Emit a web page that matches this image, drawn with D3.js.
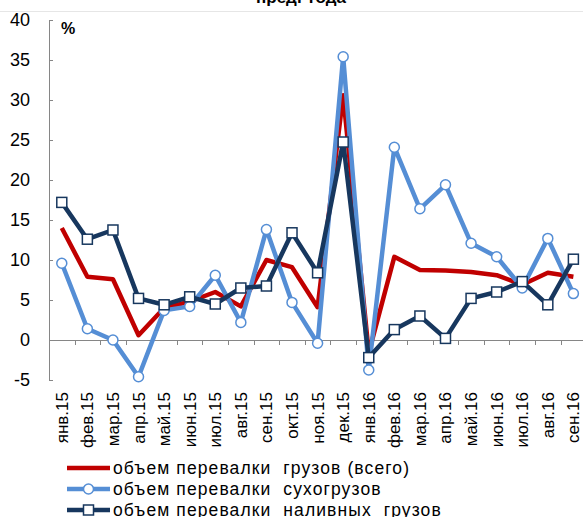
<!DOCTYPE html>
<html>
<head>
<meta charset="utf-8">
<script src="https://cdn.jsdelivr.net/npm/d3@7"></script>
<style>
  body { margin: 0; background: #fff; }
  svg { display: block; font-family: "Liberation Sans", Arial, sans-serif; }
</style>
</head>
<body>
<script>
// months, янв.15 .. сен.16
const months = ["янв.15", "фев.15", "мар.15", "апр.15", "май.15", "июн.15", "июл.15",
  "авг.15", "сен.15", "окт.15", "ноя.15", "дек.15", "янв.16", "фев.16", "мар.16",
  "апр.16", "май.16", "июн.16", "июл.16", "авг.16", "сен.16"];

const total = [14.0, 7.9, 7.6, 0.6, 4.0, 4.8, 6.0, 4.2, 10.0, 9.1, 4.1, 30.6, -1.6,
  10.4, 8.75, 8.7, 8.5, 8.1, 6.9, 8.4, 7.9];
const dry = [9.6, 1.4, 0.0, -4.6, 3.7, 4.2, 8.1, 2.2, 13.8, 4.7, -0.4, 35.4, -3.75,
  24.1, 16.4, 19.4, 12.1, 10.4, 6.5, 12.7, 5.8];
const liquid = [17.2, 12.6, 13.75, 5.2, 4.4, 5.4, 4.5, 6.5, 6.75, 13.4, 8.4, 24.75, -2.2,
  1.3, 3.0, 0.2, 5.2, 6.0, 7.3, 4.4, 10.1];

const yTicks = [-5, 0, 5, 10, 15, 20, 25, 30, 35, 40];

const seriesNames = ["объем перевалки  грузов (всего)", "объем перевалки  сухогрузов",
  "объем перевалки  наливных  грузов"];

const width = 583, height = 517;
const red = "#c00000", blue = "#558ed5", navy = "#17375e", axisGrey = "#868686";

const svg = d3.select("body").append("svg")
  .attr("width", width)
  .attr("height", height);

const x = d3.scaleBand().domain(months).range([49, 49 + 21 * 25.58]);
const y = d3.scaleLinear().domain([-5, 40]).range([380, 20]);
const cx = d => x(d) + x.bandwidth() / 2;

// title, cut by the top edge
svg.append("text")
  .attr("x", 301).attr("y", 3)
  .attr("text-anchor", "middle")
  .attr("font-size", 17).attr("font-weight", "bold")
  .text("предг года");

svg.append("line")
  .attr("x1", 0).attr("x2", width)
  .attr("y1", 11.5).attr("y2", 11.5)
  .attr("stroke", "#e6e6e6");

// y axis
const yAxis = svg.append("g")
  .attr("transform", "translate(49,0)")
  .call(d3.axisRight(y).tickValues(yTicks).tickSize(4).tickFormat(""));
yAxis.select(".domain").attr("stroke", axisGrey).attr("d", "M4,20.5H0.5V380.5H4");
yAxis.selectAll(".tick line").attr("stroke", axisGrey);

svg.append("g").selectAll("text")
  .data(yTicks)
  .join("text")
    .attr("x", 30)
    .attr("y", d => y(d))
    .attr("dy", "0.35em")
    .attr("text-anchor", "end")
    .attr("font-size", 18)
    .attr("fill", "#000")
    .text(d => d);

svg.append("text")
  .attr("x", 61).attr("y", 34)
  .attr("font-size", 16).attr("font-weight", "bold")
  .text("%");

// x axis at zero
const xAxis = svg.append("g")
  .attr("transform", `translate(0,${y(0)})`);
xAxis.append("line")
  .attr("x1", 49).attr("x2", width)
  .attr("y1", 0.5).attr("y2", 0.5)
  .attr("stroke", axisGrey);
xAxis.selectAll("line.tk")
  .data(months.slice(1))
  .join("line")
    .attr("class", "tk")
    .attr("x1", d => Math.round(x(d)) + 0.5)
    .attr("x2", d => Math.round(x(d)) + 0.5)
    .attr("y1", 0).attr("y2", 5)
    .attr("stroke", axisGrey);

svg.append("g").selectAll("text")
  .data(months)
  .join("text")
    .attr("transform", d => `translate(${cx(d) + 6},392) rotate(-90)`)
    .attr("text-anchor", "end")
    .attr("font-size", 17)
    .text(d => d);

// lines
const line = d3.line().x((d, i) => cx(months[i])).y(d => y(d));

svg.append("path").datum(total)
  .attr("d", line)
  .attr("fill", "none").attr("stroke", red).attr("stroke-width", 4.5)
  .attr("stroke-linejoin", "round");

svg.append("path").datum(dry)
  .attr("d", line)
  .attr("fill", "none").attr("stroke", blue).attr("stroke-width", 4.5)
  .attr("stroke-linejoin", "round");
svg.append("g").selectAll("circle")
  .data(dry)
  .join("circle")
    .attr("cx", (d, i) => cx(months[i]))
    .attr("cy", d => y(d))
    .attr("r", 5)
    .attr("fill", "#fff").attr("stroke", blue).attr("stroke-width", 1.5);

svg.append("path").datum(liquid)
  .attr("d", line)
  .attr("fill", "none").attr("stroke", navy).attr("stroke-width", 4.5)
  .attr("stroke-linejoin", "round");
svg.append("g").selectAll("rect")
  .data(liquid)
  .join("rect")
    .attr("x", (d, i) => cx(months[i]) - 5)
    .attr("y", d => y(d) - 5)
    .attr("width", 10).attr("height", 10)
    .attr("fill", "#fff").attr("stroke", navy).attr("stroke-width", 1.5);

// legend
const legend = svg.append("g").selectAll("g")
  .data(seriesNames)
  .join("g")
    .attr("transform", (d, i) => `translate(0,${468 + i * 21})`);
legend.append("line")
  .attr("x1", 67).attr("x2", 110)
  .attr("stroke", (d, i) => [red, blue, navy][i])
  .attr("stroke-width", 4.5);
legend.append("text")
  .attr("x", 113).attr("dy", "0.35em")
  .attr("font-size", 17.5)
  .attr("letter-spacing", 1.1)
  .attr("xml:space", "preserve")
  .style("white-space", "pre")
  .text(d => d);
legend.filter((d, i) => i === 1).append("circle")
  .attr("cx", 88.5).attr("r", 5)
  .attr("fill", "#fff").attr("stroke", blue).attr("stroke-width", 1.5);
legend.filter((d, i) => i === 2).append("rect")
  .attr("x", 83.5).attr("y", -5).attr("width", 10).attr("height", 10)
  .attr("fill", "#fff").attr("stroke", navy).attr("stroke-width", 1.5);
</script>
</body>
</html>
